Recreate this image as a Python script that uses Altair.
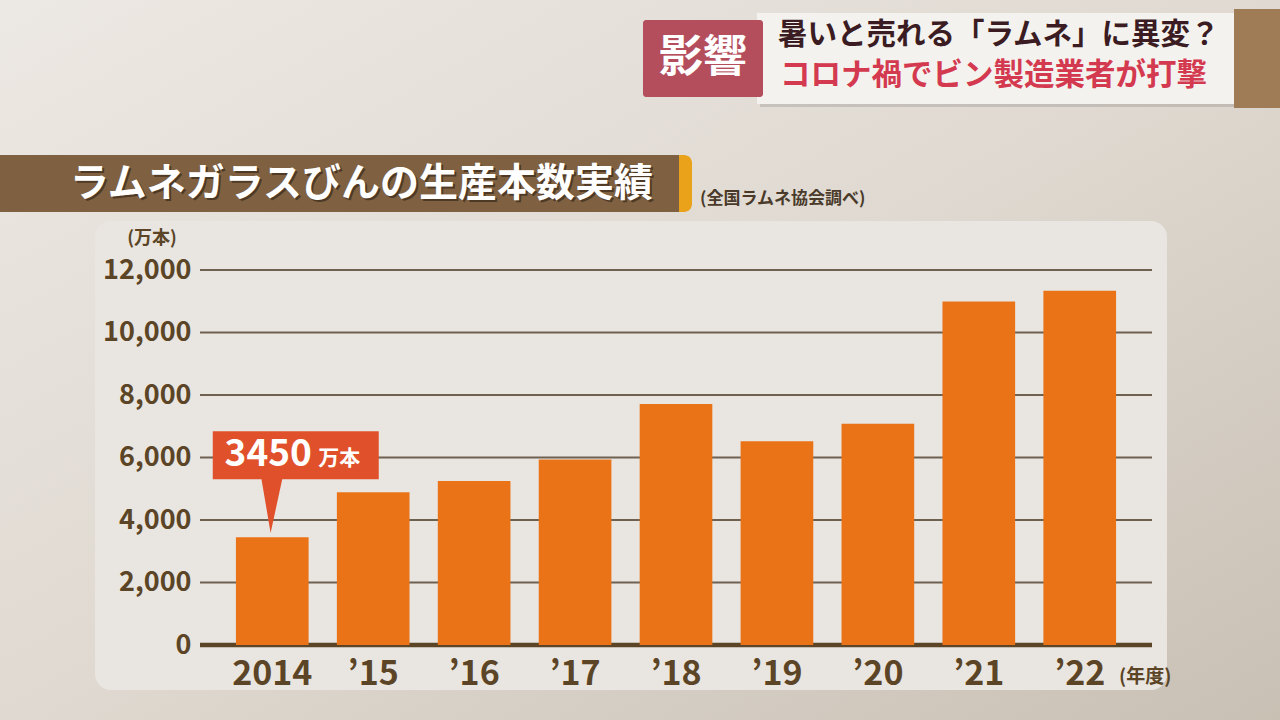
import altair as alt
import pandas as pd

# ---- data ----
years = ["2014", "’15", "’16", "’17", "’18", "’19", "’20", "’21", "’22"]
values = [3450, 4890, 5250, 5940, 7710, 6520, 7080, 10990, 11340]
y_ticks = [0, 2000, 4000, 6000, 8000, 10000, 12000]

title_text = "ラムネガラスびんの生産本数実績"
source_text = "(全国ラムネ協会調べ)"
unit_y = "(万本)"
unit_x = "(年度)"
badge_text = "影響"
headline1 = "暑いと売れる「ラムネ」に異変？"
headline2 = "コロナ禍でビン製造業者が打撃"
callout_unit = "万本"

FONT = "Noto Sans CJK JP"
BROWN = "#5b4526"

# plot geometry (page pixels)
L, T, W, H = 200, 270, 952, 375
R, B = 1280 - L - W, 720 - T - H


def px(x):
    return x - L


def py(y):
    return y - T


df = pd.DataFrame({"year": years, "value": values})
ticks_df = pd.DataFrame({"tick": y_ticks[1:]})
zero_df = pd.DataFrame({"tick": y_ticks[:1]})
call_df = pd.DataFrame({"year": years[:1], "value": values[:1]})
one = alt.Data(values=[{}])

x_enc = alt.X(
    "year:N",
    sort=None,
    scale=alt.Scale(paddingInner=0.28, paddingOuter=0.356),
    axis=alt.Axis(
        title=None, domain=False, ticks=False, labelAngle=0, zindex=2,
        labelFont=FONT, labelFontWeight="bold", labelFontSize=34,
        labelColor=BROWN, labelPadding=12,
    ),
)
y_enc = alt.Y(
    "value:Q",
    scale=alt.Scale(domain=[0, 12000], nice=False, zero=True),
    axis=alt.Axis(
        title=None, domain=False, ticks=False, grid=False, values=y_ticks,
        zindex=2,
        format=",d", labelFont=FONT, labelFontWeight="bold", labelFontSize=27,
        labelColor=BROWN, labelPadding=9,
    ),
)


def rect(x1, x2, y1, y2, fill, radius=0, opacity=1.0):
    return alt.Chart(one).mark_rect(
        fill=fill, cornerRadius=radius, opacity=opacity
    ).encode(
        x=alt.value(px(x1)), x2=alt.value(px(x2)),
        y=alt.value(py(y1)), y2=alt.value(py(y2)),
    )


def text(s, x, y, size, color, align="left", weight="bold", opacity=1.0):
    return alt.Chart(one).mark_text(
        text=s, font=FONT, fontSize=size, fontWeight=weight, color=color,
        align=align, baseline="middle", opacity=opacity,
    ).encode(x=alt.value(px(x)), y=alt.value(py(y)))


bg_grad = alt.Gradient(
    gradient="linear", x1=0, y1=0, x2=1, y2=1,
    stops=[
        alt.GradientStop(color="#ece8e3", offset=0),
        alt.GradientStop(color="#dfd9d1", offset=0.5),
        alt.GradientStop(color="#c9c0b4", offset=1),
    ],
)

background = rect(0, 1280, 0, 720, bg_grad)
panel = rect(95, 1167, 221, 690, "#e9e6e2", radius=16)

title_accent = rect(-10, 692, 155, 212, "#e9a21a", radius=8)
title_bar = rect(-10, 679, 155, 212, "#7f6141")
title_shadow = text(title_text, 72, 186, 39, "#2e2014", opacity=0.6)
title_main = text(title_text, 70, 184, 39, "#ffffff")
source = text(source_text, 700, 199, 17, "#4a3a2a")

head_shadow = rect(760, 1237, 16, 107, "#000000", opacity=0.12)
head_box = rect(757, 1234, 13, 104, "#f4f2ef")
wood = rect(1234, 1280, 9, 108, "#a07c56")
badge = rect(643, 763, 20, 97, "#b44e5d", radius=3)
badge_t = text(badge_text, 703, 59, 44, "#ffffff", align="center")
head1 = text(headline1, 778, 35, 29.5, "#3a1c22")
head2 = text(headline2, 780, 76, 30.5, "#d43a4f")

unit_y_t = text(unit_y, 152, 239, 18, BROWN, align="center")
unit_x_t = text(unit_x, 1119, 677, 19, BROWN)

grid = alt.Chart(ticks_df).mark_rule(color="#6f6150", strokeWidth=2).encode(
    y=alt.Y("tick:Q", scale=alt.Scale(domain=[0, 12000], nice=False))
)
zero_rule = alt.Chart(zero_df).mark_rule(color=BROWN, strokeWidth=4.5).encode(
    y=alt.Y("tick:Q", scale=alt.Scale(domain=[0, 12000], nice=False))
)

bars = alt.Chart(df).mark_bar(color="#ea7317").encode(x=x_enc, y=y_enc)

callout_path = (
    "M-0.717,-1.277 L1.283,-1.277 L1.283,-0.699 L0.12,-0.699 "
    "L-0.02,-0.05 L-0.13,-0.699 L-0.717,-0.699 Z"
)
callout = alt.Chart(call_df).mark_point(
    shape=callout_path, size=166 * 166, filled=True, fill="#e0512b",
    opacity=1, strokeWidth=0,
).encode(x=alt.X("year:N", sort=None), y=alt.Y("value:Q"))
callout_num = alt.Chart(call_df).mark_text(
    font=FONT, fontSize=37, fontWeight="bold", color="#ffffff",
    align="center", baseline="middle", dx=-4, dy=-82,
).encode(
    x=alt.X("year:N", sort=None), y=alt.Y("value:Q"),
    text=alt.Text("value:Q", format="d"),
)
callout_u = alt.Chart(call_df).mark_text(
    text=callout_unit, font=FONT, fontSize=21, fontWeight="bold",
    color="#ffffff", align="center", baseline="middle", dx=67, dy=-78,
).encode(x=alt.X("year:N", sort=None), y=alt.Y("value:Q"))

chart = alt.layer(
    background, panel,
    title_accent, title_bar, title_shadow, title_main, source,
    head_shadow, head_box, wood, badge, badge_t, head1, head2,
    unit_y_t, unit_x_t,
    grid, zero_rule, bars, callout, callout_num, callout_u,
).properties(
    width=W, height=H,
    autosize=alt.AutoSizeParams(type="none"),
    padding={"left": L, "top": T, "right": R, "bottom": B},
    background="#ddd7cf",
).configure_view(stroke=None)

chart.save("out.html", embed_options={"renderer": "svg", "actions": False})
